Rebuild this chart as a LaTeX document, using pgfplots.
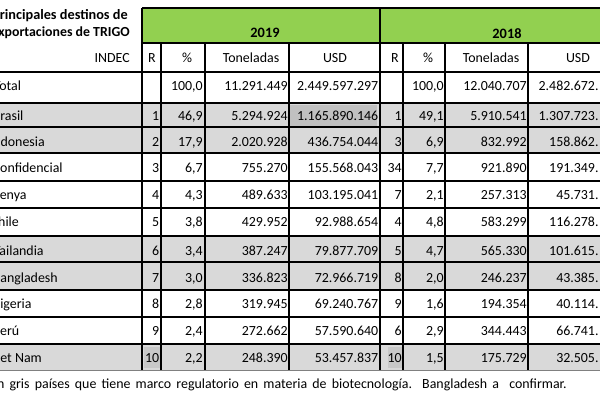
\documentclass[border=0pt]{standalone}
\usepackage{pgfplots}
\pgfplotsset{compat=1.18}
\usepackage{pgfplotstable}
\usepackage{fontspec}
\setmainfont{Carlito}
\definecolor{hdrgreen}{HTML}{92D050}
\definecolor{rowgrey}{HTML}{D9D9D9}
\definecolor{cellgrey}{HTML}{C0C0C0}
\definecolor{rgrey}{HTML}{C8C8C8}

\pgfplotstableread[col sep=semicolon]{
y;nx;name;R19;P19;T19;U19;R18;P18;T18;U18
86;-6.5;Total;;100,0;11.291.449;2.449.597.297;;100,0;12.040.707;2.482.672.
116;-7.5;Brasil;1;46,9;5.294.924;1.165.890.146;1;49,1;5.910.541;1.307.723.
142;-10.5;Indonesia;2;17,9;2.020.928;436.754.044;3;6,9;832.992;158.862.
168;-7.5;Confidencial;3;6,7;755.270;155.568.043;34;7,7;921.890;191.349.
195;-7.5;Kenya;4;4,3;489.633;103.195.041;7;2,1;257.313;45.731.
222;-9.5;Chile;5;3,8;429.952;92.988.654;4;4,8;583.299;116.278.
251;-6.5;Tailandia;6;3,4;387.247;79.877.709;5;4,7;565.330;101.615.
278;-7.5;Bangladesh;7;3,0;336.823;72.966.719;8;2,0;246.237;43.385.
304;-9;Nigeria;8;2,8;319.945;69.240.767;9;1,6;194.354;40.114.
331;-7;Perú;9;2,4;272.662;57.590.640;6;2,9;344.443;66.741.
358;-11;Viet Nam;10;2,2;248.390;53.457.837;10;1,5;175.729;32.505.
}\datatable

\tikzset{cellfont/.style={font=\fontsize{9.9}{12}\selectfont, inner sep=0pt, text height=6.3pt, text depth=0pt, text=black}}

\newcommand{\rect}[5]{\addplot[fill=#1, draw=none] coordinates {(#2,#3) (#4,#3) (#4,#5) (#2,#5)} --cycle;}
\newcommand{\hl}[4]{\addplot[black, line width=#1] coordinates {(#2,#4) (#3,#4)};}
\newcommand{\vl}[4]{\addplot[black, line width=#1] coordinates {(#2,#3) (#2,#4)};}
\newcommand{\valplot}[2]{\addplot[draw=none, mark=none, nodes near coords, point meta=explicit symbolic,
  every node near coord/.append style={cellfont, anchor=east}] table[x expr=#1, y=y, meta=#2] {\datatable};}

\begin{document}
\begin{tikzpicture}
\begin{axis}[at={(0,0)}, anchor=south west,
  width=15cm, height=10cm, scale only axis,
  xmin=0, xmax=600, ymin=0, ymax=400, y dir=reverse,
  hide axis, clip=false]
% fills
\rect{hdrgreen}{142}{8}{600}{43}
\rect{rowgrey}{0}{103}{600}{127}
\rect{rowgrey}{0}{127}{600}{153}
\rect{rowgrey}{0}{236}{600}{262}
\rect{rowgrey}{0}{262}{600}{290}
\rect{rowgrey}{0}{344}{600}{370}
\rect{cellgrey}{290}{105}{377}{126}
\rect{rgrey}{144}{347}{160}{368}
\rect{rgrey}{388}{347}{402}{368}
% lines
\hl{1.0pt}{142}{600}{8}
\hl{1.3pt}{142}{600}{43}
\hl{1.3pt}{0}{600}{72}
\hl{1.8pt}{0}{600}{103}
\pgfplotsinvokeforeach{127,153,181,208,236,262,290,317}{\hl{1.3pt}{0}{600}{#1}}
\hl{1.8pt}{0}{600}{344}
\addplot[gray, line width=0.5pt] coordinates {(0,370) (600,370)};
\vl{1.3pt}{142}{8}{370}
\pgfplotsinvokeforeach{161,205,289,403,445,528}{\vl{1.3pt}{#1}{43}{370}}
\vl{1.5pt}{380}{8}{370}
% title and headers
\node[cellfont, font=\fontsize{10.15}{12}\selectfont\bfseries, anchor=east] at (axis cs:128,15) {Principales destinos de};
\node[cellfont, font=\fontsize{9.85}{12}\selectfont\bfseries, anchor=east] at (axis cs:130,32) {Exportaciones de TRIGO};
\node[cellfont, font=\fontsize{10.2}{12}\selectfont\bfseries] at (axis cs:265,33) {2019};
\node[cellfont, font=\fontsize{10.2}{12}\selectfont\bfseries] at (axis cs:507,34) {2018};
\node[cellfont, anchor=east] at (axis cs:130,58) {INDEC};
\node[cellfont] at (axis cs:152,58) {R};
\node[cellfont] at (axis cs:187,58) {\%};
\node[cellfont] at (axis cs:251,58) {Toneladas};
\node[cellfont] at (axis cs:335,58) {USD};
\node[cellfont] at (axis cs:395,58) {R};
\node[cellfont] at (axis cs:428,58) {\%};
\node[cellfont] at (axis cs:491,58) {Toneladas};
\node[cellfont] at (axis cs:578,58) {USD};
% data
\addplot[draw=none, mark=none, nodes near coords, point meta=explicit symbolic,
  every node near coord/.append style={cellfont, anchor=west}] table[x=nx, y=y, meta=name] {\datatable};
\valplot{159.5}{R19}
\valplot{203}{P19}
\valplot{288}{T19}
\valplot{378.5}{U19}
\valplot{402}{R18}
\valplot{444}{P18}
\valplot{527}{T18}
\addplot[draw=none, mark=none, nodes near coords={\pgfplotspointmeta\phantom{000}}, point meta=explicit symbolic,
  every node near coord/.append style={cellfont, anchor=east}] table[x expr=620, y=y, meta=U18] {\datatable};
% footnote
\node[cellfont, anchor=east] at (axis cs:567,384) {\makebox[410pt][s]{En gris países que tiene marco regulatorio en materia de biotecnología. Bangladesh a\ \ confirmar.}};
\end{axis}
\pgfresetboundingbox
\useasboundingbox (0,0) rectangle (15cm,10cm);
\end{tikzpicture}
\end{document}
